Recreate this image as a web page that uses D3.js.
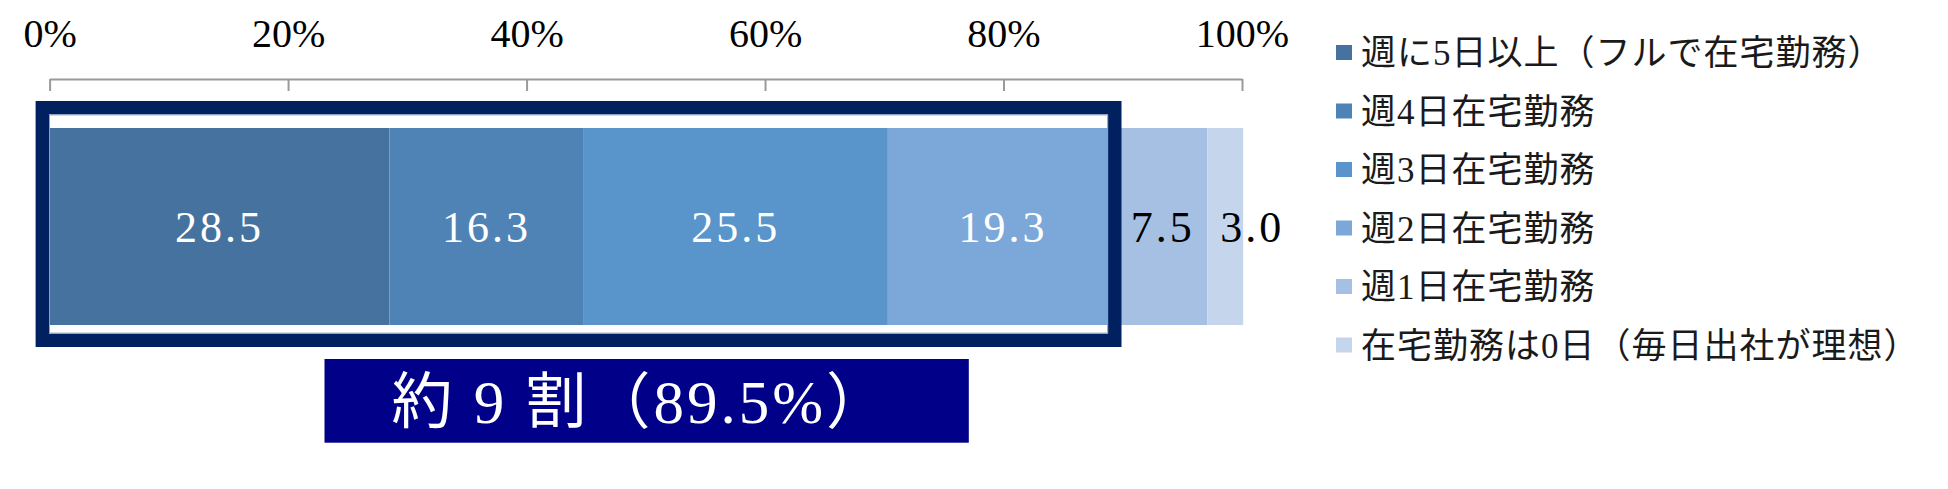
<!DOCTYPE html>
<html><head><meta charset="utf-8">
<script src="https://cdn.jsdelivr.net/npm/d3@7"></script>
<style>
html,body{margin:0;padding:0;background:#fff;}
svg{display:block;}
</style></head>
<body>
<svg id="chart" width="1948" height="489"></svg>
<script>
// ---- data ----
const categories = ["週に5日以上（フルで在宅勤務）","週4日在宅勤務","週3日在宅勤務","週2日在宅勤務","週1日在宅勤務","在宅勤務は0日（毎日出社が理想）"];
const values = [28.5, 16.3, 25.5, 19.3, 7.5, 3.0];
const valueLabels = ["28.5","16.3","25.5","19.3","7.5","3.0"];
const colors = ["#45729e","#4f83b5","#5995ca","#7ba8d8","#a5c0e3","#c5d5ec"];
const tickValues = [0,20,40,60,80,100];
const tickLabels = ["0%","20%","40%","60%","80%","100%"];
const highlightCount = 4;
const highlightText = "約 9 割（89.5%）";

const svg = d3.select("#chart");
const serif = "'Liberation Serif','Noto Sans CJK JP',serif";

const x = d3.scaleLinear().domain([0,100]).range([49.6,1242]);
const y = d3.scaleBand().domain(["all"]).range([128,325]);

// stacked segments
let acc = 0;
const segs = values.map((v,i)=>{ const s={i,v,x0:acc,x1:acc+v,label:valueLabels[i],color:colors[i],cat:categories[i]}; acc+=v; return s; });

// axis
const axis = d3.axisTop(x).tickValues(tickValues).tickSizeInner(-12).tickSizeOuter(0)
  .tickFormat((d,i)=>tickLabels[i]);
const gAx = svg.append("g").attr("transform","translate(0,79)").call(axis);
gAx.select(".domain").attr("stroke","#9a9a9a").attr("stroke-width",2);
gAx.selectAll(".tick line").attr("stroke","#9a9a9a").attr("stroke-width",2);
gAx.selectAll(".tick text").attr("y",-32).attr("dy","0").attr("fill","#000")
  .style("font-family",serif).style("font-size","40px");

// bars
svg.append("g").selectAll("rect").data(segs).join("rect")
  .attr("x",d=>x(d.x0)).attr("width",d=>x(d.x1)-x(d.x0))
  .attr("y",y("all")).attr("height",y.bandwidth())
  .attr("fill",d=>d.color);

// value labels
svg.append("g").selectAll("text").data(segs).join("text")
  .attr("x",d=> (x(d.x1)-x(d.x0) < 60) ? x(d.x1)+9 : (x(d.x0)+x(d.x1))/2)
  .attr("y",y("all")+y.bandwidth()/2)
  .attr("dy","0.35em")
  .attr("text-anchor","middle")
  .attr("fill",d=>d.i<highlightCount?"#fff":"#000")
  .style("font-family",serif).style("font-size","44px").style("letter-spacing","3px")
  .text(d=>d.label);

// highlight frame (drawn over bars)
const hiEnd = d3.sum(values.slice(0,highlightCount));
const sw = 13.4;
const fx0 = x(0)-14, fx1 = x(hiEnd)+3.5, fy0 = y("all")-27, fy1 = y("all")+y.bandwidth()+22;
svg.append("rect")
  .attr("x",fx0+sw/2).attr("y",fy0+sw/2)
  .attr("width",fx1-fx0-sw).attr("height",fy1-fy0-sw)
  .attr("fill","none").attr("stroke","#00205f").attr("stroke-width",sw);
svg.append("rect")
  .attr("x",fx0+sw+0.5).attr("y",fy0+sw+0.5)
  .attr("width",fx1-fx0-2*sw-1).attr("height",fy1-fy0-2*sw-1)
  .attr("fill","none").attr("stroke","#8fa0c4").attr("stroke-width",1);

// highlight label box
const bx0 = 324.5, bx1 = 968.8, by0 = 359, by1 = 442.7;
svg.append("rect").attr("x",bx0).attr("y",by0).attr("width",bx1-bx0).attr("height",by1-by0)
  .attr("fill","#000088");
svg.append("text").attr("x",391.5).attr("y",(by0+by1)/2).attr("dy","0.36em")
  .attr("fill","#fff")
  .style("font-family",serif).style("font-size","61px").style("letter-spacing","3px")
  .text(highlightText);

// legend
const lg = svg.append("g").selectAll("g").data(segs).join("g")
  .attr("transform",(d,i)=>`translate(1336,${52.5+i*58.5})`);
lg.append("rect").attr("x",0).attr("y",-7.5).attr("width",16).attr("height",15).attr("fill",d=>d.color);
lg.append("text").attr("x",25).attr("y",0).attr("dy","0.36em").attr("fill","#1a1a1a")
  .style("font-family",serif).style("font-size","35px").style("letter-spacing","1px").text(d=>d.cat);
</script>
</body></html>
